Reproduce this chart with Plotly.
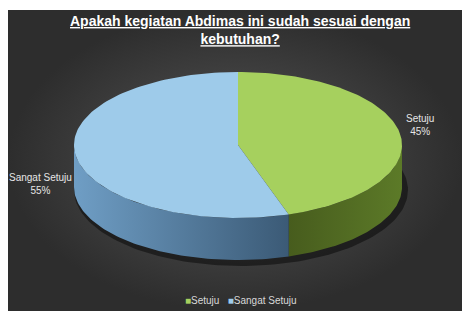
import numpy as np
import plotly.graph_objects as go

# ---- data ----
title_lines = ["Apakah kegiatan Abdimas ini sudah sesuai dengan", "kebutuhan?"]
categories = ["Setuju", "Sangat Setuju"]
values = [45, 55]

# ---- style ----
top_colors = ["#a6d05e", "#9ecbea"]
side_scales = [
    [[0, "#475c1d"], [1, "#5c7a28"]],
    [[0, "#6f9ec5"], [1, "#3b5a76"]],
]
W, H = 462, 311
cx, cy, rx, ry, depth = 238, 145, 164, 73, 42


def ell(theta_deg, dy=0.0, cxx=cx, cyy=cy, a=rx, b=ry):
    t = np.radians(theta_deg)
    return cxx + a * np.sin(t), cyy - b * np.cos(t) + dy


fig = go.Figure()

# background panel with radial gradient
fig.add_trace(go.Scatter(
    x=[8, W, W, 8, 8], y=[10, 10, H, H, 10], mode="lines",
    line=dict(width=0), fill="toself",
    fillgradient=dict(type="radial", colorscale=[[0, "#575757"], [1, "#2d2d2d"]]),
    hoverinfo="skip", showlegend=False))

# shadow under pie
th = np.linspace(0, 360, 181)
sx, sy = ell(th, 0, cx + 3, cy + depth + 3, rx + 3, ry + 3)
fig.add_trace(go.Scatter(x=sx, y=sy, mode="lines", line=dict(width=0),
                         fill="toself", fillcolor="rgba(0,0,0,0.45)",
                         hoverinfo="skip", showlegend=False))

total = float(sum(values))
fracs = np.array(values) / total
starts = np.concatenate([[0], np.cumsum(fracs)[:-1]]) * 360
ends = np.cumsum(fracs) * 360

# side walls
for i in range(len(values)):
    lo, hi = max(starts[i], 90), min(ends[i], 270)
    if hi <= lo:
        continue
    t = np.linspace(lo, hi, 80)
    x1, y1 = ell(t)
    x2, y2 = ell(t[::-1], depth)
    fig.add_trace(go.Scatter(
        x=np.concatenate([x1, x2, x1[:1]]), y=np.concatenate([y1, y2, y1[:1]]),
        mode="lines", line=dict(width=0), fill="toself",
        fillgradient=dict(type="horizontal", colorscale=side_scales[i]),
        hoverinfo="skip", showlegend=False))

# top faces
for i in range(len(values)):
    t = np.linspace(starts[i], ends[i], 120)
    x1, y1 = ell(t)
    fig.add_trace(go.Scatter(
        x=np.concatenate([[cx], x1, [cx]]), y=np.concatenate([[cy], y1, [cy]]),
        mode="lines", line=dict(width=0), fill="toself", fillcolor=top_colors[i],
        hoverinfo="skip", showlegend=False))

font = "Liberation Sans, Arial, sans-serif"
label_pos = [(420, 125), (40, 184)]
for i, cat in enumerate(categories):
    pct = round(100 * values[i] / total)
    fig.add_annotation(x=label_pos[i][0], y=label_pos[i][1], xref="x", yref="y",
                       text=f"{cat}<br>{pct}%", showarrow=False,
                       font=dict(family=font, size=10, color="#e6e6e6"))

legend_txt = "   ".join(
    f"<span style='color:{top_colors[i]}'>■</span>{c}" for i, c in enumerate(categories))
fig.add_annotation(x=241, y=300, xref="x", yref="y", text=legend_txt, showarrow=False,
                   font=dict(family=font, size=10, color="#d8d8d8"))

fig.add_annotation(x=240, y=30, xref="x", yref="y",
                   text="<br>".join(f"<b><u>{ln}</u></b>" for ln in title_lines),
                   showarrow=False,
                   font=dict(family=font, size=14, color="#ffffff"))

fig.update_layout(
    width=W, height=H, margin=dict(l=0, r=0, t=0, b=0),
    paper_bgcolor="white", plot_bgcolor="white",
    xaxis=dict(range=[0, W], visible=False, fixedrange=True),
    yaxis=dict(range=[H, 0], visible=False, fixedrange=True),
    showlegend=False,
)
fig.write_html("out.html", config={"displayModeBar": False},
               post_script="document.body.style.margin='0';document.body.style.overflow='hidden';")
